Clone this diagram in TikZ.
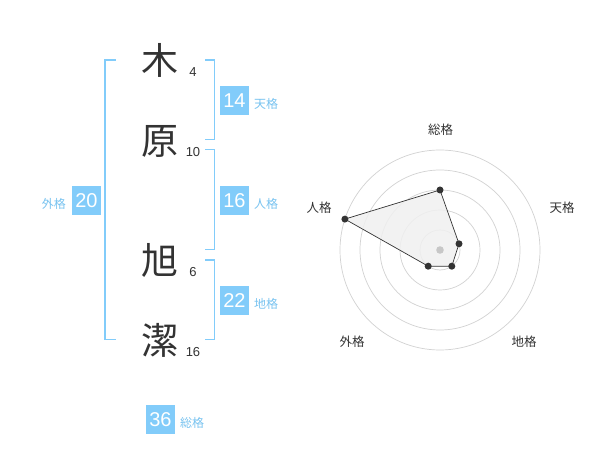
\documentclass[tikz,border=0pt]{standalone}
\usepackage{fontspec}
\setmainfont{Liberation Sans}
\newfontfamily\jp{Noto Sans CJK JP}
\definecolor{skyb}{RGB}{130,204,250}
\definecolor{lbl}{RGB}{120,195,240}
\definecolor{ink}{RGB}{51,51,51}
\definecolor{ringc}{RGB}{210,210,210}
\begin{document}
\begin{tikzpicture}[x=1pt,y=-1pt,
  kanji/.style={font=\jp\fontsize{37}{37}\selectfont, text=ink, inner sep=0pt},
  strokes/.style={font=\fontsize{13}{13}\selectfont, text=ink, inner sep=0pt},
  numbox/.style={fill=skyb, text=white, minimum width=29pt, minimum height=29pt, inner sep=0pt, font=\fontsize{20}{20}\selectfont},
  kaku/.style={font=\jp\fontsize{12}{12}\selectfont, text=lbl, inner sep=0pt},
  bracket/.style={draw=skyb, line width=1.6pt},
  ring/.style={draw=ringc, line width=0.7pt},
  axlabel/.style={font=\jp\fontsize{12.5}{13}\selectfont, text=ink, inner sep=0pt},
  dot/.style={circle, fill=ink, inner sep=0pt, minimum size=7pt}]
\useasboundingbox (0,0) rectangle (600,470);
\fill[white] (0,0) rectangle (600,470);

% kanji
\node[kanji] (k1) at (160,60) {木};
\node[kanji] (k2) at (160,141.5) {原};
\node[kanji] (k3) at (160,260) {旭};
\node[kanji] (k4) at (160,340) {潔};
\node[strokes] (s1) at (193,72.5) {4};
\node[strokes] (s2) at (193,152.5) {10};
\node[strokes] (s3) at (193,272.5) {6};
\node[strokes] (s4) at (193,352.5) {16};

% brackets
\draw[bracket] (115.5,60) -- (105,60) -- (105,339.5) -- (115.5,339.5);
\draw[bracket] (205,60) -- (214.5,60) -- (214.5,139.5) -- (205,139.5);
\draw[bracket] (205,149.5) -- (214.5,149.5) -- (214.5,249.5) -- (205,249.5);
\draw[bracket] (205,260) -- (214.5,260) -- (214.5,339.5) -- (205,339.5);

% boxes and labels
\node[numbox] (b14) at (234.5,100.3) {14};
\node[kaku, anchor=west] (l14) at (254,104) {天格};
\node[numbox] (b16) at (234.5,200.3) {16};
\node[kaku, anchor=west] (l16) at (254,204) {人格};
\node[numbox] (b22) at (234.5,300.3) {22};
\node[kaku, anchor=west] (l22) at (254,303.5) {地格};
\node[numbox] (b20) at (86.5,200.3) {20};
\node[kaku, anchor=east] (l20) at (66,203.5) {外格};
\node[numbox] (b36) at (160.5,419.2) {36};
\node[kaku, anchor=west] (l36) at (180,422.5) {総格};

% radar
\coordinate (c) at (440,250);
\foreach \r in {20,40,60,80,100} \draw[ring] (c) circle[radius=\r];
\path (c) ++(0,-60) coordinate (pS);
\path (c) ++(19.0,-6.2) coordinate (pT);
\path (c) ++(11.8,16.2) coordinate (pC);
\path (c) ++(-11.8,16.2) coordinate (pG);
\path (c) ++(-95.1,-30.9) coordinate (pJ);
\filldraw[fill=black!6, fill opacity=0.85, draw=ink, line width=0.7pt] (pS) -- (pT) -- (pC) -- (pG) -- (pJ) -- cycle;
\fill[black!22] (c) circle[radius=3.8];
\foreach \p in {pS,pT,pC,pG,pJ} \node[dot] at (\p) {};
\node[axlabel] (aS) at (440.7,130) {総格};
\node[axlabel] (aT) at (562,208) {天格};
\node[axlabel] (aC) at (524,342) {地格};
\node[axlabel] (aG) at (352,342) {外格};
\node[axlabel] (aJ) at (319,208) {人格};
\end{tikzpicture}
\end{document}
